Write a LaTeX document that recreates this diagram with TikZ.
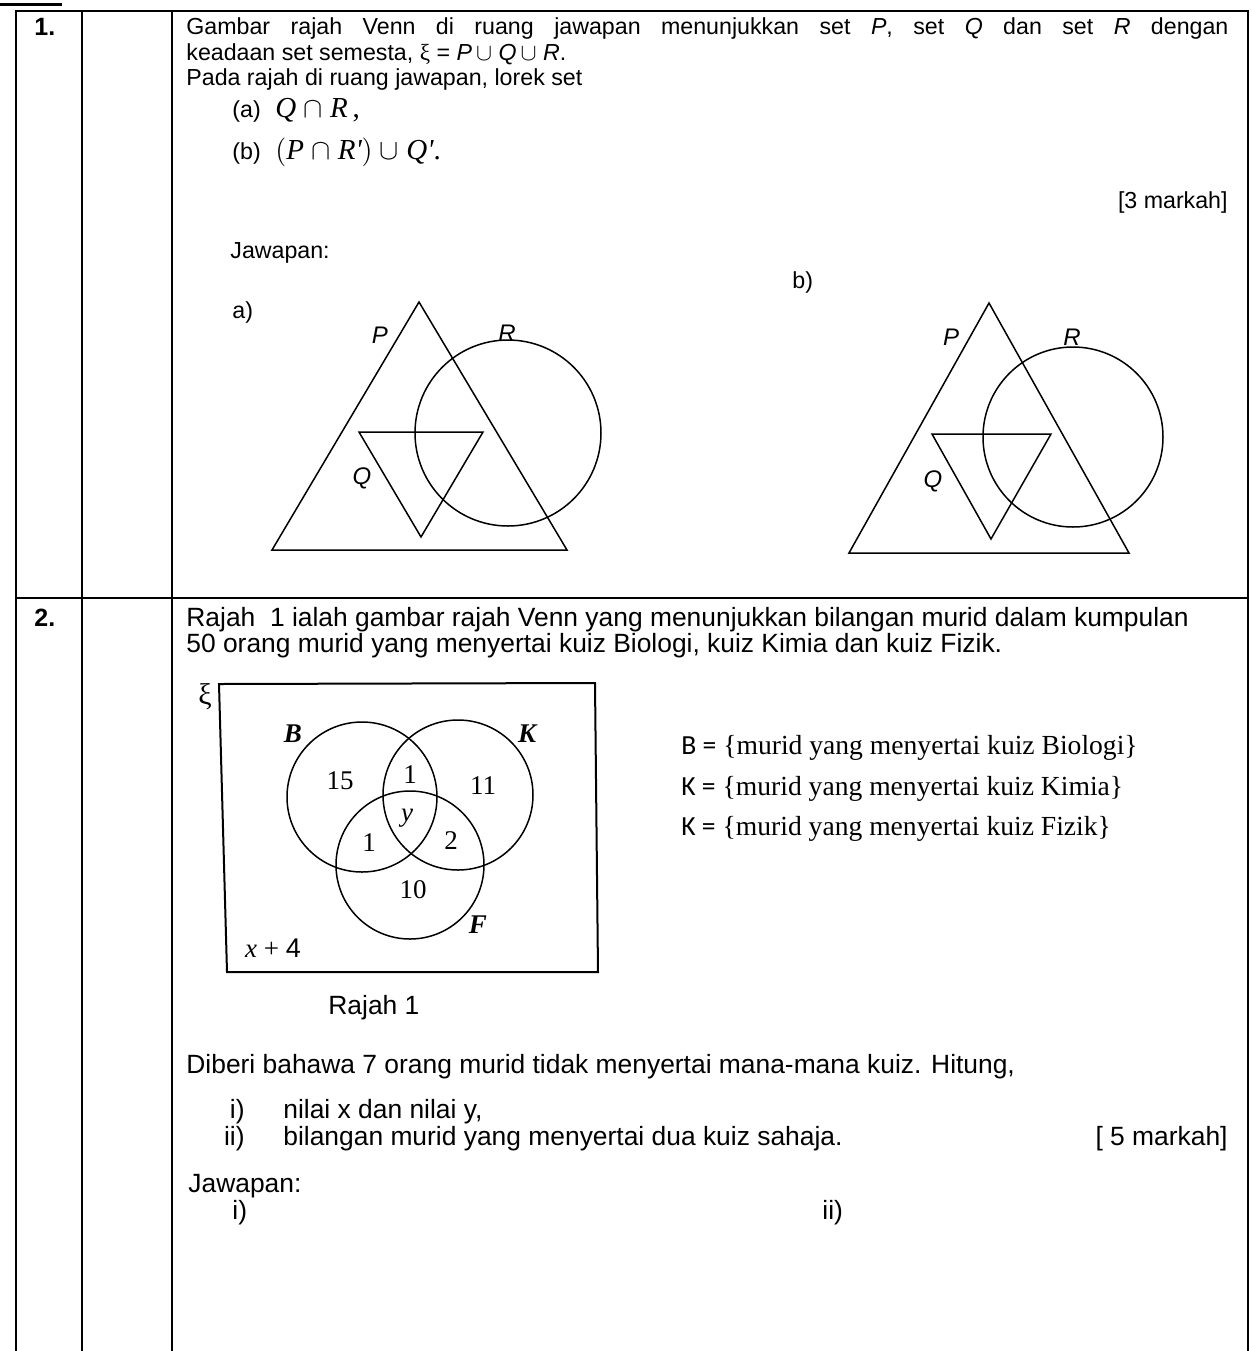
\documentclass[tikz,border=0pt]{standalone}
\usepackage{fontspec}
\setmainfont{Liberation Sans}
\newfontfamily\tms{Liberation Serif}
\newfontfamily\clbr{Carlito}
\usetikzlibrary{positioning}

\begin{document}
\begin{tikzpicture}[
          x=0.5pt, y=-0.5pt,
          rule/.style={line width=1.1pt},
          venn/.style={line width=0.75pt},
          txt/.style={anchor=base west, inner sep=0pt, font=\fontsize{11.6}{14}\selectfont},
          rtxt/.style={anchor=base east, inner sep=0pt, font=\fontsize{11.6}{14}\selectfont},
          txtb/.style={anchor=base west, inner sep=0pt, font=\fontsize{13.2}{15}\selectfont},
          rtxtb/.style={anchor=base east, inner sep=0pt, font=\fontsize{13.2}{15}\selectfont},
          mth/.style={anchor=base west, inner sep=0pt, font=\tms\fontsize{14.5}{15}\selectfont\itshape},
          lbl/.style={inner sep=0pt, font=\fontsize{12}{15}\selectfont\itshape},
          num/.style={inner sep=0pt, font=\tms\fontsize{13.5}{15}\selectfont},
          bnum/.style={num, font=\tms\fontsize{13.5}{15}\selectfont\bfseries\itshape},
          setdef/.style={anchor=base west, inner sep=0pt, font=\tms\fontsize{13.8}{15}\selectfont}
      ]
        \useasboundingbox (0,0) rectangle (1252,1351);
        % table
        \draw[line width=1.5pt] (0,4) -- (62,4);
        \draw[rule] (16,1351) -- (16,11) -- (1248,11) -- (1248,1351);
        \draw[rule] (82,11) -- (82,1351);
        \draw[rule] (172,11) -- (172,1351);
        \draw[rule] (16,598) -- (1248,598);
        \node[txtb, font=\fontsize{12.5}{15}\selectfont\bfseries] (n1) at (34,35) {1.};
        \node[txtb, font=\fontsize{12.5}{15}\selectfont\bfseries] (n2) at (34,626) {2.};

        % soalan 1
        \node[txt] (s1a) at (186,34) {\makebox[521pt][s]{Gambar rajah Venn di ruang jawapan menunjukkan set {\itshape P}, set {\itshape Q} dan set {\itshape R} dengan}};
        \node[txt] (s1b) at (186,60) {keadaan set semesta, {\tms ξ} = {\itshape P}$\,\cup$ {\itshape Q}$\,\cup$ {\itshape R}.};
        \node[txt] (s1c) at (186,85) {Pada rajah di ruang jawapan, lorek set};
        \node[txt] (ta) at (232,117) {(a)};
        \node[mth] (ma) at (275,117) {Q $\cap$ R\,{\upshape ,}};
        \node[txt] (tb) at (232,159) {(b)};
        \node[mth] (mb) at (275,159) {$\bigl($P $\cap$ R'$\bigr)$ $\cup$ Q'{\upshape .}};
        \node[rtxt] (mk1) at (1228,208) {[3 markah]};
        \node[txt] (jw1) at (230,258) {Jawapan:};
        \node[txt] (la) at (232,318) {a)};
        \node[txt] (lb) at (792,288) {b)};

        % rajah a)
        \draw[venn] (419,302) -- (567,550) -- (272,550) -- cycle;
        \draw[venn] (359,432) -- (483,432) -- (421,537) -- cycle;
        \draw[venn] (508,433) circle[radius=46.5pt];
        \node[lbl] (pa) at (380,335) {P};
        \node[lbl] (ra) at (507,333) {R};
        \node[lbl] (qa) at (362,478) {Q};

        % rajah b)
        \draw[venn] (989,303) -- (1129,553) -- (849,553) -- cycle;
        \draw[venn] (932,434) -- (1051,434) -- (991,539) -- cycle;
        \draw[venn] (1073,437) circle[radius=45pt];
        \node[lbl] (pb) at (951,337) {P};
        \node[lbl] (rb) at (1072,337) {R};
        \node[lbl] (qb) at (933,481) {Q};

        % soalan 2
        \node[txtb] (s2a) at (186,626) {Rajah \ 1 ialah gambar rajah Venn yang menunjukkan bilangan murid dalam kumpulan};
        \node[txtb] (s2b) at (186,652) {50 orang murid yang menyertai kuiz Biologi, kuiz Kimia dan kuiz Fizik.};

        % rajah 1
        \draw[line width=1pt] (219,684) -- (595,683) -- (598,972) -- (227,972) -- cycle;
        \draw[venn] (362,797) circle[radius=37.5pt];
        \draw[venn] (458,795) circle[radius=37.5pt];
        \draw[venn] (410,865) circle[radius=37pt];
        \node[num, font=\tms\fontsize{15}{15}\selectfont] (xi) at (205,697) {ξ};
        \node[bnum] (bB) at (293,734) {B};
        \node[bnum] (bK) at (527,734) {K};
        \node[bnum] (bF) at (478,925) {F};
        \node[num] (v15) at (340,781) {15};
        \node[num] (v1a) at (410,775) {1};
        \node[num] (v11) at (483,786) {11};
        \node[num, font=\tms\fontsize{13.5}{15}\selectfont\itshape] (vy) at (407,818) {y};
        \node[num] (v1b) at (369,843) {1};
        \node[num] (v2) at (451,841) {2};
        \node[num] (v10) at (413,890) {10};
        \node[num] (vx) at (273,948) {{\itshape x} + {\fontspec{Liberation Sans}4}};
        \node[txtb] (cap) at (328,1014) {Rajah 1};

        \node[setdef] (dB) at (681,754) {{\clbr B =} \{murid yang menyertai kuiz Biologi\}};
        \node[setdef] (dK) at (681,795) {{\clbr K =} \{murid yang menyertai kuiz Kimia\}};
        \node[setdef] (dF) at (681,835) {{\clbr K =} \{murid yang menyertai kuiz Fizik\}};

        \node[txtb] (s2c) at (186,1073) {Diberi bahawa 7 orang murid tidak menyertai mana-mana kuiz. Hitung,};
        \node[rtxtb] (i1) at (245,1118) {i)};
        \node[txtb] (i1t) at (283,1118) {nilai x dan nilai y,};
        \node[rtxtb] (i2) at (245,1145) {ii)};
        \node[txtb] (i2t) at (283,1145) {bilangan murid yang menyertai dua kuiz sahaja.};
        \node[rtxtb] (mk2) at (1228,1145) {[ 5 markah]};
        \node[txtb] (jw2) at (188,1192) {Jawapan:};
        \node[txtb] (j1) at (232,1219) {i)};
        \node[txtb] (j2) at (822,1219) {ii)};
      \end{tikzpicture}
\end{document}
